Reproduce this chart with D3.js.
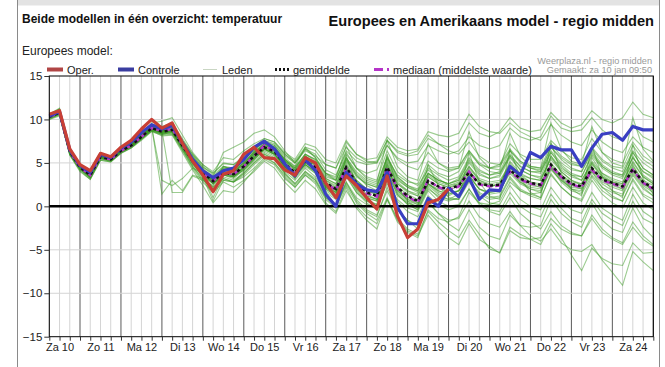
<!DOCTYPE html>
<html>
<head>
<meta charset="utf-8">
<script src="https://cdn.jsdelivr.net/npm/d3@7"></script>
<style>
body { margin: 0; background: #fff; }
svg { display: block; font-family: "Liberation Sans", Arial, sans-serif; }
</style>
</head>
<body>
<svg id="chart" width="665" height="367"></svg>
<script>
// tick labels
var dagLabels = ["Za 10", "Zo 11", "Ma 12", "Di 13", "Wo 14", "Do 15", "Vr 16", "Za 17",
                 "Zo 18", "Ma 19", "Di 20", "Wo 21", "Do 22", "Vr 23", "Za 24"];
var yTicks = [-15, -10, -5, 0, 5, 10, 15];

// first value: za 10 jan 06:00, then every 6 hours
var startTijd = new Date(2015, 0, 10, 6);
var stapUren = 6;

var oper = [10.6, 11.0, 6.6, 4.8, 4.1, 6.1, 5.7, 6.8, 7.6, 8.9, 10.0, 9.0, 9.6,
  7.3, 5.2, 3.6, 1.7, 3.7, 4.1, 6.0, 6.8, 5.6, 5.5, 4.2, 3.6, 5.6, 5.0, 2.7, 1.0,
  3.5, 2.4, 1.0, -0.3, 3.5, -1.1, -3.6, -2.6, 0.4, 0.8, 2.0];

var controle = [10.4, 10.9, 6.5, 4.7, 3.9, 6.0, 5.6, 6.7, 7.4, 8.5, 9.4, 8.9, 9.3,
  7.3, 5.4, 4.1, 3.3, 4.1, 4.4, 5.4, 6.8, 7.5, 6.6, 4.9, 3.5, 5.4, 4.1, 1.4, 0.0,
  3.9, 2.6, 1.9, 1.7, 3.9, -0.1, -2.0, -2.0, 0.9, 0.0, 2.1, 1.1, 3.3, 0.8, 1.9, 1.8,
  4.6, 3.6, 6.2, 5.6, 6.9, 6.5, 6.5, 4.6, 6.7, 8.3, 8.5, 7.6, 9.2, 8.8, 8.8];

var gemiddelde = [10.3, 10.8, 6.3, 4.5, 3.6, 5.7, 5.4, 6.4, 7.0, 8.0, 9.0, 8.6, 8.8,
  7.0, 5.2, 3.9, 2.9, 3.9, 3.7, 4.6, 5.8, 6.8, 6.3, 4.9, 3.9, 5.2, 4.5, 2.7, 2.0,
  4.5, 2.7, 1.6, 1.2, 4.5, 2.2, 1.2, 0.6, 2.9, 2.3, 2.0, 2.4, 3.9, 2.6, 2.4, 2.5,
  4.2, 3.2, 2.7, 2.5, 4.8, 3.5, 2.6, 2.3, 4.4, 3.1, 2.7, 2.3, 4.3, 2.8, 2.1];

var mediaan = [10.3, 10.8, 6.3, 4.5, 3.6, 5.7, 5.4, 6.4, 7.0, 8.0, 9.0, 8.7, 8.9,
  7.1, 5.2, 3.9, 2.9, 3.9, 3.7, 4.6, 5.8, 7.0, 6.4, 4.9, 3.8, 5.2, 4.5, 2.6, 1.9,
  4.4, 2.6, 1.5, 1.1, 4.4, 2.1, 1.1, 0.5, 3.0, 2.2, 1.9, 2.3, 4.0, 2.5, 2.3, 2.4,
  4.0, 3.1, 2.6, 2.4, 4.6, 3.4, 2.5, 2.2, 4.2, 3.0, 2.6, 2.2, 4.2, 2.7, 2.0];

// ensemble members (leden)
var leden = [
  [10.4,11.0,6.5,4.6,3.8,6.0,5.5,6.5,7.2,8.3,9.3,8.9,9.1, 7.5,5.8,4.5,3.8, 4.9,4.8,5.6,6.6, 7.4,7.0,5.8,5.0, 6.4,5.8,4.8,4.4, 6.8,5.6,5.0,5.2, 7.6,6.2,5.8,6.0, 7.8,7.2,6.8,7.4, 9.6,8.4,8.0,8.6, 10.2,9.0,8.6,8.8, 10.8,9.6,9.0,9.4, 11.0,10.0,9.6,10.2, 12.0,10.6,10.2],
  [10.2,10.6,6.1,4.3,3.3,5.5,5.3,6.3,6.9,7.8,8.8,8.4,8.6, 6.6,4.6,3.0,2.0, 3.2,2.8,3.4,4.4, 5.6,5.0,3.6,2.4, 3.8,3.0,1.0,0.2, 2.6,0.8,-0.4,-1.0, 1.8,-0.4,-1.6,-2.2, 0.4,-0.8,-1.6,-1.4, 0.6,-1.2,-2.0,-2.4, -0.6,-2.2,-3.4,-4.0, -2.6,-4.2,-5.0,-5.2, -4.4,-6.2,-7.6,-9.1, -5.2,-6.4,-7.4],
  [10.0,10.4,5.9,4.0,3.1,5.3,5.1,6.1,6.7,7.6,8.6,8.2,8.3, 6.4,4.4,2.8,1.6, 2.8,2.2,3.0,4.0, 5.2,4.4,2.8,1.6, 3.0,2.0,0.2,-0.8, 1.8,0.0,-1.2,-2.0, 0.8,-1.4,-2.6,-3.2, -0.6,-1.8,-2.8,-3.6, -1.6,-3.2,-4.9,-5.3, -2.4,-3.2,-3.8,-4.4, -2.0,-3.6,-5.6,-7.4, -4.8,-6.0,-6.6,-6.8, -4.2,-5.4,-5.3],
  [10.6,11.3,6.6,4.7,3.9,6.1,5.7,6.8,7.4,8.4,9.4,9.2,9.6, 7.8,6.0,4.6,3.6, 4.6,4.4,5.4,6.4, 7.4,6.8,5.4,4.2, 5.6,4.8,3.0,2.2, 5.4,3.6,2.4,1.8, 5.2,3.0,2.2,1.8, 4.4,3.6,3.0,3.4, 5.6,4.2,3.6,3.8, 6.0,4.6,4.0,3.8, 6.4,5.0,4.2,4.0, 6.2,4.6,3.8,3.4, 5.6,4.0,3.4],
  [10.1,10.7,6.2,4.4,3.5,5.6,5.3,6.3,6.9,7.9,8.9,8.5,8.7, 6.8,5.0,3.6,2.6, 3.6,3.4,4.2,5.4, 6.6,6.2,4.6,3.4, 4.8,4.0,2.2,1.4, 4.0,2.0,0.8,0.2, 3.8,1.4,0.2,-0.4, 2.0,1.2,0.8,1.4, 3.0,1.6,1.0,1.2, 3.4,2.0,1.4,1.0, 3.6,2.2,1.2,0.8, 3.4,1.8,1.0,0.6, 3.2,1.4,0.8],
  [10.3,10.9,6.4,4.6,3.7,5.8,5.5,6.5,7.0,8.0,9.2,1.4,3.0, 1.8,3.6,3.2,2.0, 3.0,2.8,4.0,5.2, 6.2,5.6,4.0,3.0, 4.4,3.4,1.6,0.8, 3.6,1.6,0.4,-0.4, 3.0,0.6,-0.6,-1.2, 1.2,0.2,-0.4,0.0, 2.0,0.4,-0.4,-0.6, 1.6,0.0,-0.8,-1.2, 1.4,-0.2,-1.4,-1.8, 0.8,-0.8,-1.6,-2.2, 0.6,-1.4,-2.0],
  [10.2,10.8,6.3,4.5,3.5,5.7,5.4,6.4,7.0,8.1,9.0,8.8,1.6, 1.6,3.5,3.0,2.4, 4.6,4.2,5.0,6.0, 7.2,6.6,5.2,4.4, 6.0,5.4,3.6,3.0, 5.6,3.8,2.8,2.4, 5.8,3.4,2.4,2.0, 4.8,3.8,3.4,4.0, 6.2,4.8,4.4,4.8, 7.2,6.0,5.4,5.4, 7.6,6.4,5.6,5.4, 7.8,6.2,5.4,5.0, 7.4,5.8,5.0],
  [10.5,11.1,6.4,4.6,3.6,5.9,5.6,6.6,7.1,8.2,9.6,9.8,10.2, 8.2,6.2,4.8,3.8, 5.0,4.8,5.8,6.8, 7.8,7.4,6.0,5.0, 6.6,6.0,4.2,3.6, 6.2,4.4,3.4,3.0, 6.4,4.0,3.0,2.4, 4.2,3.2,2.4,2.6, 4.6,3.0,2.4,2.4, 5.0,3.6,2.8,2.4, 5.8,4.0,3.0,2.4, 5.6,3.8,3.0,2.6, 5.8,3.6,2.8],
  [10.0,10.6,6.0,4.3,3.3,5.5,5.2,6.2,6.8,7.8,8.7,8.3,8.5, 6.6,4.8,3.4,0.6, 3.0,2.8,3.8,5.0, 6.0,5.4,3.8,2.6, 4.0,3.2,1.2,0.2, 2.8,0.6,-0.6,-1.2, 2.2,-0.4,-1.6,-2.6, 0.6,-0.8,-2.0,-2.8, -0.4,-2.4,-3.4,-3.8, -1.0,-2.2,-2.4,-2.2, 0.8,-0.8,-1.8,-2.4, 0.4,-1.6,-2.6,-3.0, -0.2,-2.4,-3.6],
  [10.4,11.0,6.4,4.5,3.7,5.8,5.5,6.5,7.1,8.1,9.1,8.7,8.9, 7.2,5.4,4.2,3.4, 4.4,4.4,5.4,6.4, 7.6,7.2,6.0,5.2, 6.8,6.4,4.8,4.4, 7.4,6.0,5.4,5.6, 8.0,6.8,6.4,6.6, 8.6,8.2,8.0,8.4, 10.6,9.2,8.6,8.4, 9.6,8.6,8.0,7.6, 9.4,8.2,7.4,7.0, 8.8,7.4,6.6,6.2, 8.0,6.8,6.2],
  [10.3,10.7,6.1,4.3,3.4,5.6,5.4,6.3,6.9,7.9,8.9,8.4,8.6, 6.9,5.2,4.0,3.0, 4.2,4.0,4.8,6.0, 7.0,6.4,5.0,4.0, 5.4,4.6,2.8,2.0, 4.4,2.6,1.4,0.8, 4.0,1.6,0.4,-0.2, 2.4,1.4,0.8,0.8, 2.8,1.2,0.4,0.2, 2.4,0.8,0.0,-0.4, 2.2,0.6,-0.4,-0.8, 1.6,-0.2,-1.0,-1.6, 1.4,-0.6,-1.4],
  [10.4,10.9,6.3,4.5,3.6,5.7,5.4,6.4,7.0,8.0,9.0,8.6,8.8, 7.0,5.2,3.8,2.8, 3.8,3.6,4.4,5.6, 6.8,6.4,5.0,3.8, 5.0,4.4,2.6,2.2, 4.8,3.0,2.0,1.6, 4.8,2.6,1.6,1.2, 3.6,2.8,2.4,2.8, 4.6,3.2,2.8,3.0, 4.8,3.6,3.2,3.0, 5.6,4.2,3.4,3.0, 5.2,3.8,3.2,2.8, 5.0,3.4,2.6],
  [10.2,10.8,6.2,4.4,3.5,5.7,5.3,6.3,6.9,7.9,8.9,8.5,8.8, 7.1,5.3,3.9,2.7, 3.6,3.2,4.2,5.4, 6.4,5.8,4.4,3.2, 4.6,3.8,1.8,1.0, 3.8,1.8,0.6,0.2, 4.2,1.8,0.6,0.2, 2.6,2.0,1.8,2.4, 4.4,3.0,2.6,2.8, 4.6,3.2,2.6,2.2, 4.4,2.8,1.8,1.4, 3.6,2.2,1.6,1.2, 3.6,2.0,1.2],
  [10.6,11.2,6.6,4.8,3.8,6.0,5.7,6.7,7.3,8.3,9.4,9.0,9.3, 7.6,5.8,4.4,3.4, 6.2,6.8,7.4,8.4, 8.8,8.0,6.4,5.0, 6.6,5.6,3.8,3.0, 5.6,4.0,3.0,2.6, 5.6,3.4,2.4,1.8, 3.8,3.0,2.6,3.0, 5.2,3.8,3.2,3.6, 5.8,4.6,4.0,4.0, 6.8,5.6,4.8,4.6, 6.8,5.4,4.6,4.4, 7.0,5.4,4.6],
  [10.1,10.6,6.0,4.2,3.2,5.4,5.2,6.2,6.8,7.7,8.7,8.3,8.5, 6.7,4.9,3.6,1.0, 3.4,3.0,3.8,5.0, 6.0,5.4,3.8,2.6, 4.0,3.0,1.0,0.0, 2.4,0.4,-0.8,-1.6, 1.0,-1.6,-2.8,-3.4, -1.0,-2.4,-3.6,-4.4, -2.0,-3.8,-4.6,-5.4, -2.8,-3.6,-3.8,-3.6, -1.4,-2.6,-3.2,-3.4, -1.0,-2.6,-3.6,-4.2, -1.8,-3.4,-4.4],
  [10.3,10.8,6.3,4.5,3.6,5.8,5.5,6.4,7.0,8.0,9.0,8.6,8.7, 6.9,5.1,3.7,2.7, 3.8,3.6,4.6,5.8, 6.8,6.2,4.8,3.8, 5.2,4.4,2.6,1.8, 4.6,2.8,1.8,1.4, 4.6,2.2,1.4,0.8, 3.4,2.6,2.2,2.6, 4.2,2.6,2.4,2.6, 4.4,3.4,2.8,2.6, 4.8,3.6,2.8,2.6, 4.4,3.2,2.8,2.4, 4.6,3.0,2.4],
  [10.5,11.0,6.4,4.6,3.7,5.9,5.6,6.6,7.2,8.2,9.2,8.8,9.0, 7.3,5.5,4.2,3.2, 4.4,4.2,5.2,6.2, 7.2,6.6,5.4,4.6, 6.0,5.2,3.4,3.0, 6.0,4.4,3.8,4.2, 7.0,5.6,5.0,5.2, 7.0,6.4,6.0,6.4, 8.0,7.0,6.6,7.0, 9.0,8.0,7.6,8.0, 10.4,9.0,8.6,8.8, 10.2,8.8,8.0,7.6, 9.4,8.0,7.4],
  [10.2,10.7,6.2,4.4,3.4,5.6,5.3,6.3,6.9,7.9,8.8,8.5,8.7, 6.9,5.0,3.7,2.6, 3.8,3.4,4.2,5.4, 6.6,6.0,4.6,3.4, 5.0,4.2,2.4,1.6, 4.2,2.2,1.0,0.6, 4.4,2.0,0.8,0.4, 3.0,2.2,1.6,1.8, 3.6,2.0,1.4,1.6, 4.2,2.8,2.0,1.6, 4.6,3.2,2.0,1.6, 4.0,2.2,1.2,0.6, 3.0,1.2,0.4],
  [10.4,10.9,6.3,4.5,3.5,5.7,5.4,6.4,7.0,8.0,9.0,8.6,8.8, 7.0,5.1,3.8,2.8, 4.0,3.6,4.4,5.6, 6.6,6.0,4.6,3.6, 4.8,3.8,2.0,1.2, 3.4,1.6,0.6,0.0, 2.6,0.8,-0.2,-0.6, 1.8,0.6,0.0,0.2, 2.0,0.2,-0.6,-1.0, 1.0,-0.8,-1.8,-2.6, -0.6,-2.2,-3.0,-3.4, -1.4,-3.0,-3.8,-4.4, -2.4,-3.8,-4.6],
  [10.3,10.8,6.3,4.5,3.6,5.8,5.5,6.5,7.1,8.1,9.1,8.7,8.9, 7.2,5.4,4.0,3.0, 4.2,4.0,5.0,6.2, 7.0,6.6,5.2,4.2, 5.8,5.0,3.2,2.6, 5.2,3.4,2.6,2.2, 5.6,3.6,2.8,2.6, 5.2,4.4,4.0,4.4, 6.4,5.0,4.4,4.6, 6.4,5.2,4.6,4.4, 7.2,5.8,5.0,4.6, 6.6,5.2,4.4,4.0, 6.4,5.0,4.2],
  [10.4,11.0,6.4,4.6,3.7,5.8,5.5,6.5,7.1,8.1,9.1,8.7,8.9, 7.1,5.3,4.0,3.0, 4.0,3.8,4.8,6.0, 7.0,6.6,5.2,4.2, 5.4,4.8,3.0,2.4, 5.0,3.0,2.0,1.6, 5.0,2.8,1.8,1.2, 3.4,2.6,2.2,2.4, 4.0,2.8,2.4,2.4, 4.2,3.0,2.4,2.2, 5.0,3.6,2.6,2.2, 4.8,3.4,2.8,2.2, 4.8,2.8,2.0],
  [10.2,10.6,6.1,4.3,3.4,5.6,5.3,6.3,6.9,7.9,8.9,8.4,8.6, 6.8,5.0,3.6,2.6, 3.6,3.4,4.4,5.6, 6.6,6.0,4.4,3.4, 4.8,4.0,2.2,1.6, 4.6,2.4,1.2,0.8, 4.4,1.8,0.8,0.2, 2.6,1.8,1.4,1.8, 3.6,2.0,1.6,1.8, 3.8,2.6,2.0,1.8, 4.4,3.0,2.0,1.8, 4.2,2.8,2.2,1.8, 4.0,2.4,1.6],
  [10.5,11.1,6.5,4.7,3.8,5.9,5.6,6.6,7.2,8.2,9.2,8.8,9.1, 7.4,5.6,4.2,3.2, 4.2,4.0,5.0,6.2, 7.2,6.8,5.4,4.4, 5.8,5.0,3.2,2.6, 5.4,3.6,2.6,2.2, 5.4,3.2,2.2,1.6, 3.8,3.0,2.6,3.0, 5.0,3.6,3.2,3.4, 5.6,4.2,3.6,3.4, 6.2,4.8,3.8,3.4, 5.8,4.4,3.6,3.2, 5.6,4.0,3.2],
  [10.3,10.8,6.2,4.4,3.5,5.7,5.4,6.4,7.0,8.0,9.0,8.6,8.8, 7.0,5.2,3.8,2.8, 3.8,3.6,4.6,5.8, 6.8,6.2,4.8,3.6, 5.0,4.4,2.4,1.6, 4.2,2.4,1.2,0.8, 4.4,2.0,1.0,0.4, 2.6,1.8,1.4,1.8, 3.4,2.0,1.6,1.8, 4.0,2.8,2.2,2.0, 4.6,3.2,2.4,2.0, 4.4,3.0,2.4,2.0, 4.2,2.6,2.0],
  [10.5,11.1,6.5,4.6,3.7,5.9,5.6,6.6,7.2,8.2,9.3,8.9,9.2, 7.6,6.0,4.8,4.0, 5.6,5.4,6.4,7.2, 7.8,7.4,6.2,5.4, 7.2,6.8,5.4,5.0, 7.6,6.0,5.2,5.0, 7.0,5.4,4.6,4.2, 6.2,5.0,4.4,4.6, 6.4,4.8,4.0,3.8, 5.8,4.2,3.6,3.2, 5.4,4.0,3.0,2.6, 5.0,3.6,2.8,2.6, 5.2,3.4,2.6],
  [10.1,10.5,5.9,4.1,3.1,5.3,5.1,6.1,6.7,7.7,8.7,8.1,8.2, 6.2,4.2,2.4,0.4, 1.8,1.6,2.8,4.2, 5.4,4.8,3.2,2.2, 3.6,2.8,0.8,-0.2, 2.8,1.0,0.2,-0.2, 3.2,1.2,0.4,0.0, 2.6,1.6,1.2,1.8, 4.0,2.6,2.2,2.6, 5.2,3.8,3.2,3.0, 5.8,4.4,3.6,3.4, 6.0,4.6,3.8,3.6, 6.2,4.4,3.6],
  [10.3,10.9,6.4,4.5,3.6,5.8,5.5,6.5,7.1,8.1,9.1,3.0,2.4, 3.2,4.4,3.8,3.0, 4.2,4.0,4.8,5.8, 6.6,6.0,4.6,3.6, 5.0,4.2,2.4,1.8, 4.6,2.8,1.8,1.4, 4.8,2.6,1.8,1.4, 3.8,3.0,2.6,3.2, 5.4,4.0,3.6,4.0, 6.4,5.0,4.4,4.2, 6.8,5.4,4.4,4.0, 6.4,4.8,4.0,3.6, 6.2,4.4,3.6],
  [10.4,11.0,6.4,4.6,3.6,5.8,5.5,6.5,7.1,8.1,9.1,8.7,8.9, 7.0,5.0,3.4,2.2, 4.0,3.4,4.6,6.0, 7.2,6.4,4.6,3.2, 5.8,4.6,2.2,1.2, 5.8,2.6,0.8,0.0, 6.0,2.2,0.6,-0.2, 4.8,2.4,1.0,0.8, 6.2,2.8,1.2,0.8, 6.6,3.2,1.6,1.0, 7.4,3.8,2.0,1.2, 7.0,3.4,1.8,1.0, 7.2,3.2,1.4],
  [10.6,11.2,6.6,4.8,3.9,6.1,5.7,6.7,7.3,8.3,9.3,8.9,9.2, 7.4,5.6,4.2,3.2, 4.6,4.2,5.4,6.6, 7.6,7.0,5.6,4.6, 6.8,5.6,3.8,3.2, 7.0,4.4,3.2,2.8, 7.6,4.6,3.4,3.0, 7.2,5.0,4.2,4.4, 8.6,5.6,4.4,4.2, 8.4,5.8,4.6,4.4, 9.6,6.6,5.2,4.8, 9.2,6.2,5.0,4.6, 10.2,6.6,5.2],
  [10.2,10.7,6.1,4.3,3.3,5.5,5.2,6.2,6.8,7.8,8.8,8.3,8.4, 6.5,4.6,3.2,2.2, 3.2,2.8,3.6,4.8, 5.8,5.0,3.4,2.2, 3.6,2.6,0.4,-0.6, 2.2,-0.2,-1.6,-2.6, 0.8,-1.8,-3.0,-3.6, -0.4,-1.4,-1.8,-1.2, 1.6,0.4,0.2,0.6, 2.8,1.8,1.4,1.6, 4.2,3.0,2.2,2.0, 4.0,2.6,1.8,1.4, 3.8,2.2,1.2],
  [10.4,10.9,6.3,4.5,3.6,5.7,5.4,6.5,7.1,8.1,9.1,8.7,9.0, 7.2,5.4,4.0,3.0, 4.2,4.0,5.0,6.2, 7.2,6.8,5.4,4.4, 6.0,5.4,3.8,3.4, 6.4,5.2,4.8,5.0, 7.6,6.4,6.0,6.4, 8.2,7.2,6.4,6.0, 7.4,5.8,5.0,4.8, 6.6,5.2,4.4,4.0, 6.2,4.6,3.6,3.0, 5.0,3.4,2.6,2.0, 4.4,2.6,1.8],
  [10.3,10.8,6.2,4.4,3.5,5.7,5.4,6.4,7.0,8.0,8.9,8.5,8.7, 6.9,5.0,3.6,2.6, 3.6,3.4,4.4,5.6, 6.6,6.0,4.6,3.6, 4.8,4.0,2.0,1.2, 3.8,2.0,1.0,0.6, 4.0,1.4,0.2,-0.4, 2.2,1.0,0.6,1.0, 3.0,1.4,0.8,1.0, 3.2,1.8,1.2,0.8, 3.8,2.2,1.2,0.6, 3.0,1.4,0.4,-0.2, 2.2,0.4,-0.4]
];

function tijd(i) {
  return new Date(startTijd.getTime() + i * stapUren * 3600 * 1000);
}

var svg = d3.select("#chart");
var plot = {left: 49.3, right: 653.3, top: 76, bottom: 336.7};

var x = d3.scaleTime().domain([tijd(0), tijd(59)]).range([plot.left, plot.right]);
var y = d3.scaleLinear().domain([-15, 15]).range([plot.bottom, plot.top]);

// page frame
svg.append("rect").attr("x", 17.5).attr("y", -1).attr("width", 642).attr("height", 6.5)
  .attr("fill", "#e3e3e3");
svg.append("line").attr("x1", 17.5).attr("x2", 17.5).attr("y1", 0).attr("y2", 367)
  .attr("stroke", "#8a8a8a");
svg.append("line").attr("x1", 659.5).attr("x2", 659.5).attr("y1", 0).attr("y2", 367)
  .attr("stroke", "#8a8a8a");

// titles
svg.append("text").attr("x", 22).attr("y", 23).attr("font-size", "12px")
  .attr("font-weight", "bold").attr("fill", "#111")
  .text("Beide modellen in één overzicht: temperatuur");
svg.append("text").attr("x", 654).attr("y", 26).attr("font-size", "14.6px")
  .attr("font-weight", "bold").attr("fill", "#111").attr("text-anchor", "end")
  .text("Europees en Amerikaans model - regio midden");
svg.append("text").attr("x", 22).attr("y", 55).attr("font-size", "12px")
  .attr("fill", "#222").text("Europees model:");
svg.append("text").attr("x", 652).attr("y", 64).attr("font-size", "9.2px")
  .attr("fill", "#9a9a9a").attr("text-anchor", "end").text("Weerplaza.nl - regio midden");
svg.append("text").attr("x", 652).attr("y", 73).attr("font-size", "9.2px")
  .attr("fill", "#9a9a9a").attr("text-anchor", "end").text("Gemaakt: za 10 jan 09:50");

// grid
var g = svg.append("g");
var zesUur = d3.timeHour.every(6).range(tijd(0), new Date(tijd(59).getTime() + 1));
g.selectAll(".vgrid").data(zesUur).enter().append("line")
  .attr("x1", function(d) { return x(d); })
  .attr("x2", function(d) { return x(d); })
  .attr("y1", plot.top).attr("y2", plot.bottom)
  .attr("stroke", function(d) { return d.getHours() === 0 ? "#5a5a5a" : "#d4d4d4"; })
  .attr("stroke-width", 1);
g.selectAll(".hgrid").data(yTicks.filter(function(v) { return v !== 0 && Math.abs(v) !== 15; }))
  .enter().append("line")
  .attr("x1", plot.left).attr("x2", plot.right)
  .attr("y1", function(d) { return y(d); })
  .attr("y2", function(d) { return y(d); })
  .attr("stroke", "#d4d4d4");

// lines
var lijn = d3.line()
  .x(function(d, i) { return x(tijd(i)); })
  .y(function(d) { return y(d); });

g.selectAll(".lid").data(leden).enter().append("path")
  .attr("fill", "none")
  .attr("stroke", "#3a9a22")
  .attr("stroke-opacity", 0.5)
  .attr("stroke-width", 1.1)
  .attr("d", lijn);

// zero line
g.append("line").attr("x1", plot.left).attr("x2", plot.right)
  .attr("y1", y(0)).attr("y2", y(0))
  .attr("stroke", "#000").attr("stroke-width", 2.5);

g.append("path").datum(mediaan)
  .attr("fill", "none").attr("stroke", "#b534c8").attr("stroke-width", 2.5)
  .attr("stroke-dasharray", "6,3")
  .attr("d", lijn);
g.append("path").datum(gemiddelde)
  .attr("fill", "none").attr("stroke", "#111").attr("stroke-width", 2.5)
  .attr("stroke-dasharray", "3,3")
  .attr("d", lijn);
g.append("path").datum(controle)
  .attr("fill", "none").attr("stroke", "#3a3fc2").attr("stroke-width", 3.2)
  .attr("stroke-linejoin", "round")
  .attr("d", lijn);
g.append("path").datum(oper)
  .attr("fill", "none").attr("stroke", "#c83f35").attr("stroke-width", 3.2)
  .attr("stroke-linejoin", "round")
  .attr("d", lijn);

// frame
svg.append("rect").attr("x", plot.left).attr("y", plot.top)
  .attr("width", plot.right - plot.left).attr("height", plot.bottom - plot.top)
  .attr("fill", "none").attr("stroke", "#000").attr("stroke-width", 1);

// y axis
var yAxis = svg.append("g")
  .attr("transform", "translate(" + plot.left + ",0)")
  .call(d3.axisLeft(y).tickValues(yTicks).tickSize(5).tickPadding(2));
yAxis.select(".domain").remove();
yAxis.selectAll("text").attr("font-size", "11.5px").attr("fill", "#222")
  .attr("font-family", "Liberation Sans, Arial, sans-serif");
yAxis.selectAll("line").attr("stroke", "#333");

// x axis: 6-hour tick marks
var xTicks = svg.append("g")
  .attr("transform", "translate(0," + plot.bottom + ")")
  .call(d3.axisBottom(x).tickValues(zesUur).tickSize(4).tickFormat(""));
xTicks.select(".domain").remove();
xTicks.selectAll("line").attr("stroke", "#333");

// x axis: day labels at noon
var middagen = dagLabels.map(function(d, k) { return new Date(2015, 0, 10 + k, 12); });
var xLabels = svg.append("g")
  .attr("transform", "translate(0," + plot.bottom + ")")
  .call(d3.axisBottom(x).tickValues(middagen).tickSize(0).tickPadding(7)
    .tickFormat(function(d, k) { return dagLabels[k]; }));
xLabels.select(".domain").remove();
xLabels.selectAll("text").attr("font-size", "11px").attr("fill", "#222")
  .attr("font-family", "Liberation Sans, Arial, sans-serif");

// legend
var leg = svg.append("g").attr("font-size", "11px").attr("fill", "#222");
function legendItem(x1, x2, tx, label, stroke, width, dash) {
  leg.append("line").attr("x1", x1).attr("x2", x2).attr("y1", 69.5).attr("y2", 69.5)
    .attr("stroke", stroke).attr("stroke-width", width)
    .attr("stroke-dasharray", dash || null);
  leg.append("text").attr("x", tx).attr("y", 73.5).text(label);
}
legendItem(47, 63, 67, "Oper.", "#b04545", 4);
legendItem(118, 134, 138, "Controle", "#3a3da0", 4);
legendItem(203, 217, 222, "Leden", "#c9d6c3", 1);
legendItem(275, 290, 293, "gemiddelde", "#111", 3, "2,2");
legendItem(374, 390, 393, "mediaan (middelste waarde)", "#b534c8", 3, "9,4,2,2");
</script>
</body>
</html>
